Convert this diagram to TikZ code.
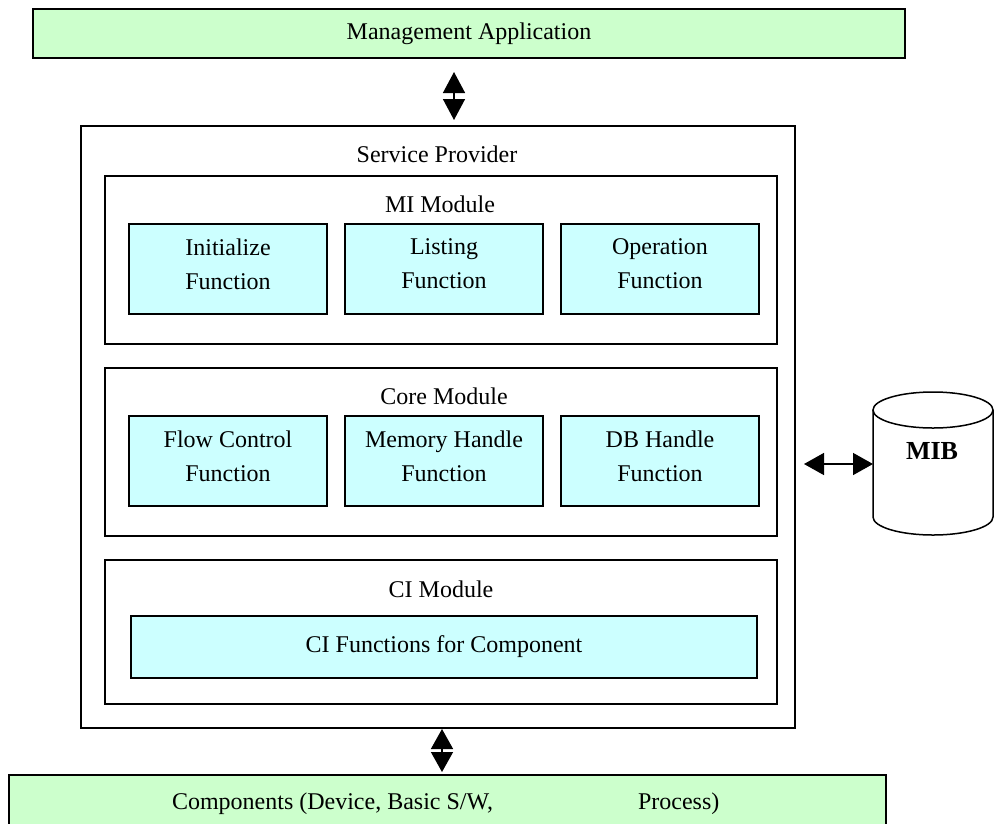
\documentclass[tikz,border=0pt]{standalone}
\usepackage{fontspec}
\setmainfont{Liberation Serif}
\usetikzlibrary{arrows.meta}
\definecolor{appgreen}{HTML}{CCFFCC}
\definecolor{fncyan}{HTML}{CCFFFF}
\tikzset{
  x=1pt,y=-1pt,
  every node/.style={font=\fontsize{24}{34}\selectfont,align=center,inner sep=0pt,outer sep=0pt},
  box/.style={draw=black,line width=1.5pt,anchor=north west,rectangle},
  green box/.style={box,fill=appgreen},
  cyan box/.style={box,fill=fncyan},
  plain box/.style={box,fill=white},
  two lines/.style={text depth=10pt},
  caption/.style={anchor=center},
  biarrow/.style={line width=1.5pt,{Triangle[length=#1,width=22pt]}-{Triangle[length=#1,width=22pt]}},
  cyl/.style={draw=black,line width=1.5pt,fill=white},
}
\newcommand{\bx}[7]{\node[#1,minimum width=#5pt-#3pt,minimum height=#6pt-#4pt] (#2) at (#3,#4) {#7};}
\begin{document}
\begin{tikzpicture}
\useasboundingbox (0,0) rectangle (994,823);
\clip (0,0) rectangle (994,823);
\bx{green box}{app}{33}{9}{905}{58}{Management Application}
\bx{plain box}{sp}{81}{126}{795}{728}{}
\bx{plain box}{mi}{105}{176}{777}{344}{}
\bx{plain box}{core}{105}{368}{777}{536}{}
\bx{plain box}{ci}{105}{560}{777}{704}{}
\node[caption] (tsp) at (437,154) {Service Provider};
\node[caption] (tmi) at (440,204) {MI Module};
\node[caption] (tcore) at (444,396) {Core Module};
\node[caption] (tci) at (441,589) {CI Module};
\bx{cyan box,two lines}{f1}{129}{224}{327}{314}{Initialize\\Function}
\bx{cyan box,two lines}{f2}{345}{224}{543}{314}{Listing\\Function}
\bx{cyan box,two lines}{f3}{561}{224}{759}{314}{Operation\\Function}
\bx{cyan box,two lines}{f4}{129}{416}{327}{506}{Flow Control\\Function}
\bx{cyan box,two lines}{f5}{345}{416}{543}{506}{Memory Handle\\Function}
\bx{cyan box,two lines}{f6}{561}{416}{759}{506}{DB Handle\\Function}
\bx{cyan box}{f7}{131}{616}{757}{678}{CI Functions for Component}
\bx{green box}{comp}{9}{775}{886}{840}{}
\node[anchor=west] (tcomp) at (172,804) {Components (Device, Basic S/W,\hspace{145pt}Process)};
\node[minimum width=120pt,minimum height=143pt] (mib) at (933,463.5) {};
\draw[cyl] (873,410) -- (873,517) arc (180:0:60 and 18) -- (993,410);
\draw[cyl] (933,410) ellipse [x radius=60,y radius=18];
\node[caption,font=\fontsize{26}{30}\selectfont\bfseries] (tmib) at (932,451) {MIB};
\coordinate (xa) at (454,0);
\coordinate (xb) at (442,0);
\coordinate (ya) at (0,464);
\draw[biarrow=21pt,shorten <=14pt,shorten >=6pt] (app.south -| xa) -- (sp.north -| xa);
\draw[biarrow=20pt,shorten <=1pt,shorten >=3pt] (sp.south -| xb) -- (comp.north -| xb);
\draw[biarrow=20pt,shorten <=9pt] (sp.east |- ya) -- (mib.west |- ya);
\end{tikzpicture}
\end{document}
